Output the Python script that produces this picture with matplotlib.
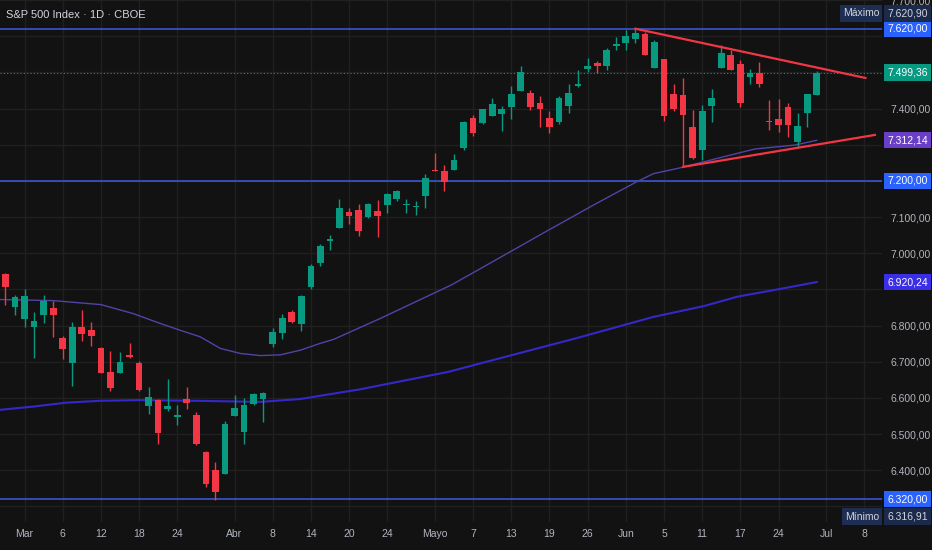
import numpy as np
import matplotlib
matplotlib.use("Agg")
import matplotlib.pyplot as plt
from matplotlib import font_manager
from matplotlib.ticker import FuncFormatter
import matplotlib.transforms as mtransforms

# pick a narrow-ish font if there is one
names = {f.name for f in font_manager.fontManager.ttflist}
font = "Liberation Sans Narrow" if "Liberation Sans Narrow" in names else "Liberation Sans"
plt.rcParams['font.family'] = [font, 'DejaVu Sans']

# daily candles (bar index 0 = first visible bar)
opens = [6942, 6852, 6819, 6795, 6828, 6848, 6767, 6696, 6795, 6788,
         6737, 6671, 6670, 6719, 6696, 6578, 6594, 6569, 6548, 6597,
         6553, 6451, 6401, 6390, 6551, 6507, 6582, 6597, 6749, 6780,
         6837, 6803, 6906, 6973, 7035, 7071, 7114, 7119, 7099, 7117,
         7133, 7149, 7133, 7127, 7158, 7231, 7227, 7230, 7290, 7375,
         7359, 7380, 7384, 7403, 7449, 7444, 7414, 7374, 7363, 7406,
         7462, 7509, 7526, 7518, 7574, 7580, 7591, 7605, 7512, 7536,
         7440, 7437, 7349, 7285, 7406, 7512, 7547, 7522, 7486, 7497,
         7365, 7370, 7403, 7308, 7389, 7437]
highs = [6945, 6884, 6900, 6838, 6884, 6869, 6770, 6810, 6843, 6810,
         6740, 6730, 6727, 6752, 6702, 6631, 6596, 6652, 6580, 6631,
         6562, 6452, 6424, 6537, 6607, 6599, 6614, 6616, 6792, 6832,
         6843, 6885, 6970, 7025, 7050, 7149, 7124, 7136, 7138, 7147,
         7167, 7175, 7151, 7144, 7218, 7276, 7243, 7273, 7365, 7381,
         7400, 7428, 7406, 7462, 7517, 7452, 7434, 7393, 7434, 7467,
         7506, 7541, 7531, 7567, 7598, 7616, 7620.9, 7612, 7589, 7537,
         7467, 7483, 7397, 7409, 7455, 7575, 7561, 7533, 7508, 7529,
         7423, 7425, 7415, 7388, 7440, 7504]
lows = [6857, 6829, 6797, 6709, 6808, 6769, 6708, 6633, 6757, 6744,
        6668, 6620, 6668, 6709, 6618, 6555, 6472, 6565, 6525, 6568,
        6470, 6355, 6316.91, 6390, 6551, 6473, 6580, 6533, 6740, 6762,
        6806, 6786, 6900, 6964, 7009, 7071, 7082, 7048, 7097, 7045,
        7112, 7144, 7112, 7105, 7125, 7227, 7172, 7230, 7285, 7323,
        7357, 7378, 7338, 7370, 7449, 7395, 7349, 7331, 7357, 7389,
        7460, 7500, 7497, 7506, 7561, 7563, 7580, 7549, 7512, 7366,
        7393, 7239, 7260, 7257, 7363, 7512, 7506, 7403, 7467, 7460,
        7340, 7335, 7321, 7294, 7349, 7437]
closes = [6906, 6878, 6881, 6813, 6867, 6828, 6736, 6795, 6776, 6771,
          6670, 6628, 6698, 6712, 6622, 6603, 6502, 6578, 6553, 6585,
          6473, 6363, 6339, 6527, 6573, 6580, 6610, 6614, 6782, 6821,
          6810, 6883, 6966, 7020, 7039, 7124, 7103, 7062, 7136, 7103,
          7163, 7172, 7135, 7129, 7208, 7228, 7197, 7257, 7363, 7331,
          7398, 7412, 7400, 7441, 7501, 7403, 7398, 7349, 7430, 7443,
          7467, 7517, 7518, 7563, 7577, 7600, 7609, 7549, 7583, 7380,
          7400, 7383, 7262, 7393, 7430, 7554, 7506, 7415, 7497, 7469,
          7363, 7354, 7354, 7352, 7440, 7499.36]

# moving averages, sampled from the chart (bar, value)
ma_fast_x = [-0.6, 5, 10, 13.4, 16.2, 18.3, 20.4, 22.5, 24.6, 26.7, 28.8, 30.9,
             33, 34.4, 39.3, 46.7, 49.2, 56.3, 61.6, 66.1, 67.9, 70.7, 75,
             78.5, 82.7, 85]
ma_fast_y = [6872, 6869, 6858, 6833, 6806, 6787, 6769, 6737, 6723, 6717, 6719,
             6732, 6751, 6762, 6820, 6912, 6949, 7055, 7133, 7197, 7220, 7236,
             7265, 7288, 7299, 7312.14]
ma_slow_x = [-0.6, 2.9, 6.4, 9.9, 14.1, 20, 26.7, 30.9, 37.2, 46.4, 52, 59.8,
             67.9, 73.2, 76.7, 80.9, 85]
ma_slow_y = [6567, 6576, 6587, 6592, 6594, 6592, 6589, 6597, 6624, 6672, 6711,
             6765, 6824, 6854, 6880, 6900, 6920.24]

# drawn levels and triangle
levels = [7620, 7200, 6320]
upper_x, upper_y = [66, 90.1], [7620.7, 7484.5]
lower_x, lower_y = [71, 91.1], [7238.7, 7327]

tick_pos = [2, 6, 10, 14, 18, 24, 28, 32, 36, 40, 45, 49, 53, 57, 61, 65, 69,
            73, 77, 81, 86, 90]
tick_lab = ['Mar', '6', '12', '18', '24', 'Abr', '8', '14', '20', '24', 'Mayo',
            '7', '13', '19', '26', 'Jun', '5', '11', '17', '24', 'Jul', '8']

BG = '#121212'
GRID = '#202020'
UP = '#089981'
DOWN = '#F23645'
TXT = '#b2b5be'


def euro(v):
    s = f"{v:,.2f}"
    return s.replace(',', 'X').replace('.', ',').replace('X', '.')


fig = plt.figure(figsize=(9.32, 5.5), dpi=100, facecolor=BG)
ax = fig.add_axes([0, 28 / 550, 882 / 932, 522 / 550], facecolor=BG)

x = np.arange(len(opens))
o = np.array(opens)
c = np.array(closes)
col = [UP if cc >= oo else DOWN for oo, cc in zip(o, c)]

for lv in levels:
    ax.axhline(lv, color='#3d5ce0', lw=1.1, zorder=1)
ax.axhline(closes[-1], color=UP, lw=0.8, ls=(0, (1, 2)), zorder=1)

ax.plot(ma_fast_x, ma_fast_y, color='#4f44a8', lw=1.0, zorder=2)
ax.plot(ma_slow_x, ma_slow_y, color='#3428c8', lw=1.5, zorder=2)

ax.vlines(x, lows, highs, colors=col, lw=1, zorder=3)
body = np.maximum(np.abs(c - o), 2.5)
ax.bar(x, body, bottom=np.minimum(o, c), width=0.7, color=col, zorder=4)

ax.plot(upper_x, upper_y, color=DOWN, lw=1.6, zorder=5)
ax.plot(lower_x, lower_y, color=DOWN, lw=1.6, zorder=5)

# price tags on the scale
tags = [(7620, '#2962FF'), (7200, '#2962FF'), (6320, '#2962FF'),
        (closes[-1], UP), (ma_fast_y[-1], '#6a3fc8'), (ma_slow_y[-1], '#3a2ee6')]
tag_vals = [t[0] for t in tags]


def ytick_fmt(v, p):
    # the tags sit on top of these scale labels
    if any(abs(v - t) < 30 for t in tag_vals):
        return ''
    return euro(v)


ax.set_xlim(-0.57, 91.84)
ax.set_ylim(6257, 7699)
ax.set_xticks(tick_pos)
ax.set_xticklabels(tick_lab)
ax.set_yticks(np.arange(6300, 7701, 100))
ax.yaxis.set_major_formatter(FuncFormatter(ytick_fmt))
ax.yaxis.tick_right()
ax.tick_params(axis='both', length=0, colors=TXT, labelsize=7.5)
ax.tick_params(axis='x', pad=5)
ax.tick_params(axis='y', pad=6)
ax.grid(True, color=GRID, lw=1)
ax.set_axisbelow(True)
for s in ax.spines.values():
    s.set_visible(False)

ax.text(0.007, 0.971, 'S&P 500 Index · 1D · CBOE', transform=ax.transAxes,
        color='#d1d4dc', fontsize=8, va='center', ha='left')

tr = mtransforms.blended_transform_factory(ax.transAxes, ax.transData)
for val, fc in tags:
    ax.text(1.0057, val, euro(val), transform=tr, color='white', fontsize=7.5,
            va='center', ha='left', clip_on=False, zorder=10,
            bbox=dict(boxstyle='square,pad=0.3', fc=fc, ec='none'))

for val, pos, name in [(7620.90, 7663, 'Máximo'), (6316.91, 6272, 'Mínimo')]:
    ax.text(1.0057, pos, euro(val), transform=tr, color='#d1d4dc', fontsize=7.5,
            va='center', ha='left', clip_on=False, zorder=10,
            bbox=dict(boxstyle='square,pad=0.3', fc='#1b2a4a', ec='none'))
    ax.text(0.9966, pos, name, transform=tr, color='#d1d4dc', fontsize=7.5,
            va='center', ha='right', clip_on=False, zorder=10,
            bbox=dict(boxstyle='square,pad=0.3', fc='#1e2d52', ec='none'))

fig.savefig('out.png', dpi=100, facecolor=BG)
